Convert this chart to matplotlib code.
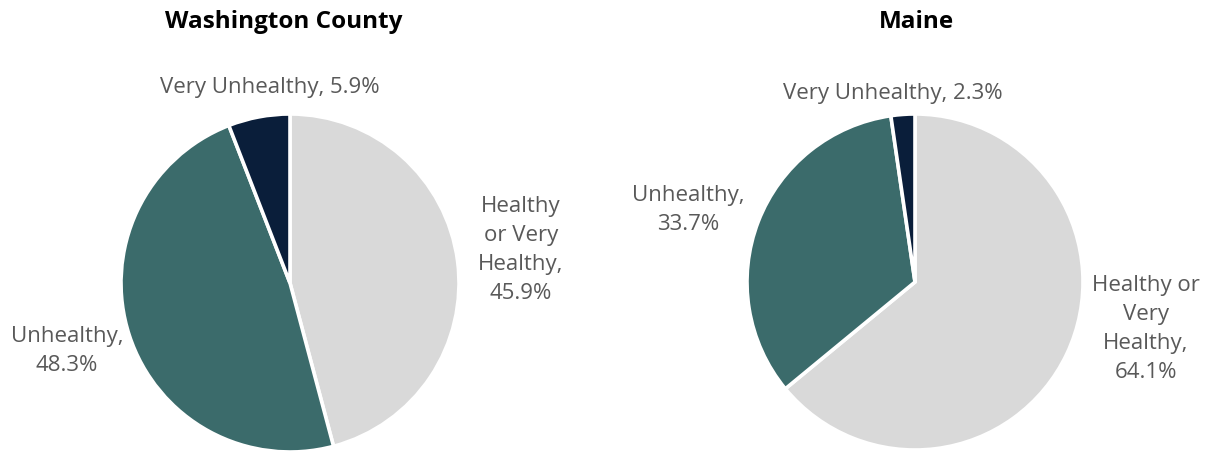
import matplotlib
matplotlib.use("Agg")
import matplotlib.pyplot as plt

categories = ["Healthy or Very Healthy", "Unhealthy", "Very Unhealthy"]
titles = ["Washington County", "Maine"]
washington_values = [45.9, 48.3, 5.9]
maine_values = [64.1, 33.7, 2.3]
washington_labels = ["Healthy\nor Very\nHealthy,\n45.9%", "Unhealthy,\n48.3%", "Very Unhealthy, 5.9%"]
maine_labels = ["Healthy or\nVery\nHealthy,\n64.1%", "Unhealthy,\n33.7%", "Very Unhealthy, 2.3%"]
colors = ["#D9D9D9", "#3B6B6B", "#0A1E3A"]

W, H = 1208, 453
fig = plt.figure(figsize=(W / 100, H / 100), dpi=100)
ax = fig.add_axes([0, 0, 1, 1])

label_font = "Open Sans"
title_font = "Open Sans"
label_color = "#595959"

specs = [
    (washington_values, washington_labels, (290, 283), 169, 284,
     [(521, 250), (67, 351), (270, 88)]),
    (maine_values, maine_labels, (915, 282), 168, 916,
     [(1146, 329), (688, 210), (893, 93)]),
]

for (vals, labs, center, r, tx, lpos), title in zip(specs, titles):
    # y axis is inverted (pixel coordinates), so draw counterclockwise from -90
    ax.pie(vals, colors=colors, startangle=-90, counterclock=True,
           center=center, radius=r, frame=True,
           wedgeprops=dict(edgecolor="white", linewidth=2.6))
    ax.text(tx, 22, title, ha="center", va="center", fontsize=17.5,
            fontweight="bold", family=title_font, color="black")
    for lab, (lx, ly) in zip(labs, lpos):
        ax.text(lx, ly, lab, ha="center", va="center", fontsize=16,
                family=label_font, color=label_color, linespacing=1.5)

ax.set_xlim(0, W)
ax.set_ylim(H, 0)
ax.set_aspect("equal")
ax.axis("off")
fig.savefig("out.png", dpi=100)
